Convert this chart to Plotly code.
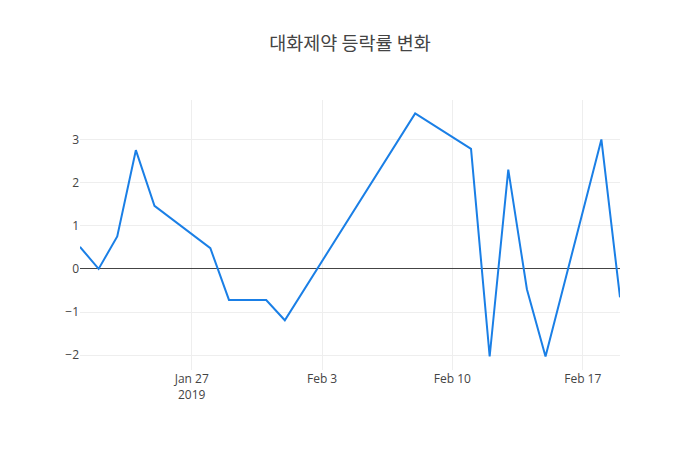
import plotly.graph_objects as go

dates = ["2019-01-21", "2019-01-22", "2019-01-23", "2019-01-24", "2019-01-25",
         "2019-01-28", "2019-01-29", "2019-01-30", "2019-01-31", "2019-02-01",
         "2019-02-08", "2019-02-11", "2019-02-12", "2019-02-13", "2019-02-14",
         "2019-02-15", "2019-02-18", "2019-02-19"]
changes = [0.51, 0.0, 0.75, 2.75, 1.46,
           0.48, -0.72, -0.72, -0.72, -1.19,
           3.60, 2.78, -2.03, 2.30, -0.47,
           -2.03, 3.00, -0.66]

fig = go.Figure(go.Scatter(
    x=dates, y=changes, mode="lines",
    line=dict(color="#1a7fe6", width=2),
))
fig.update_layout(
    template="none",
    width=700, height=450,
    title=dict(text="대화제약 등락률 변화", x=0.5,
               font=dict(family="Noto Sans CJK KR", size=18.5, color="#444")),
    font=dict(family="Open Sans", size=12, color="#444"),
    paper_bgcolor="white", plot_bgcolor="white",
    margin=dict(l=80, r=80, t=100, b=80),
    xaxis=dict(showgrid=True, gridcolor="#eee", showline=False, zeroline=False,
               ticks="", tickfont=dict(color="#444")),
    yaxis=dict(showgrid=True, gridcolor="#eee", zeroline=True, zerolinecolor="#444",
               zerolinewidth=1, showline=False, ticks="", tickfont=dict(color="#444")),
    showlegend=False,
)
fig.write_html("out.html")
